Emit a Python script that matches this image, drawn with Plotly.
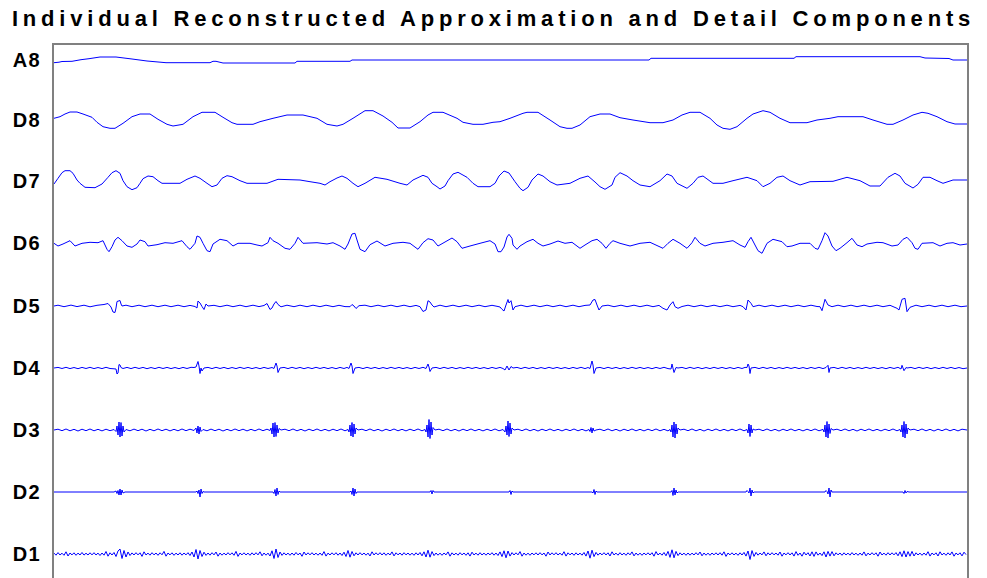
import numpy as np
import plotly.graph_objects as go

TITLE = "Individual Reconstructed Approximation and Detail Components"
LABELS = ["A8", "D8", "D7", "D6", "D5", "D4", "D3", "D2", "D1"]

# (sample, amplitude) pairs
A8_PTS = [(0,-2.7),(5,-2.2),(8,-1.5),(18,-1.3),(27,0.3),(35,1.3),(46,3),(62,3),(78,1),(93,-1),(112,-2.7),
          (156,-2.7),(159,-1.3),(162,-1.3),(169,-3),(241,-3),(243,-1.3),(296,-1.3),(298,0),(595,0),(597,1.7),
          (740,1.7),(742,3.3),(866,3.3),(871,2),(895,1.5),(899,0),(913,0)]

D8_PTS = [(0,1.7),(6,3.3),(11,6),(16,8),(23,8),(29,6),(38,2.7),(43,-2.3),(49,-6.7),(56,-8.3),(61,-8.3),(69,-3.3),
          (78,3.3),(86,6),(96,6),(104,0.7),(113,-4.3),(119,-6),(129,-4.3),(139,3.3),(148,7.7),(161,7.7),(169,2.7),
          (178,-2.7),(183,-4.3),(199,-4.3),(206,-1.7),(219,1.7),(233,5),(249,5),(263,1.7),(273,-4.3),(283,-6),
          (289,-4.3),(299,1.7),(311,9.3),(319,9.3),(329,4),(338,-2.3),(344,-8),(356,-8),(366,-1.7),(374,5),
          (379,7.7),(389,7.7),(403,1.7),(409,-2.3),(419,-4.3),(429,-4.3),(439,-2.3),(446,-1.7),(456,1.7),(469,6.7),
          (473,7.7),(484,7.7),(496,0),(506,-6.7),(513,-8.3),(518,-8.3),(526,-5),(536,3.3),(546,6),(556,6),(566,2.3),
          (579,0),(596,-2.7),(609,-2.7),(619,0),(628,5),(636,7.7),(646,7.7),(656,1.7),(663,-5),(669,-8.3),(676,-9.3),
          (683,-6.7),(693,1.7),(699,6),(709,9.3),(716,7.7),(726,1.7),(736,-2.7),(753,-2.7),(763,0),(776,1.7),
          (784,3.3),(809,3.3),(819,0),(833,-4.3),(839,-4.3),(849,0),(859,5),(868,7.7),(874,6.7),(883,3.3),
          (893,-1.7),(901,-4),(913,-4)]

D7_PTS = [(0,-3),(4,2.7),(8,8.3),(11,10.3),(16,10.3),(19,7.7),(23,1),(26,-2.3),(31,-6.3),(41,-6.7),(48,-3),
          (54,3.7),(58,8.3),(62,10.3),(66,7.7),(69,0.3),(73,-5.7),(78,-8.7),(83,-6.7),(86,-2.3),(89,2.3),(94,5),
          (99,4.3),(104,0.3),(108,-2.3),(126,-2.3),(133,1.7),(141,5),(146,2.7),(153,-2.3),(158,-5.7),(163,-4),
          (168,2.7),(173,5.3),(178,4.3),(186,0.3),(193,-2.3),(213,-2.3),(224,1.7),(246,1),(256,-0.7),(266,-2.3),
          (271,-4),(276,-0.7),(283,3),(288,5),(293,2.7),(299,-2.3),(304,-5.7),(311,-2.3),(321,3.7),(333,1.7),
          (346,-2.3),(353,-4),(359,1),(369,5.7),(374,3.7),(378,-2.3),(383,-5.7),(386,-8),(391,-5),(394,0.3),
          (399,7),(404,8.7),(413,3.7),(419,-2.3),(424,-5.7),(436,-5.7),(441,-2.3),(445,5),(450,10),(455,8),
          (461,-0.7),(466,-7.3),(469,-9.7),(474,-6.3),(478,1),(484,7),(489,5),(496,-0.7),(503,-4),(516,-2.3),
          (526,2.7),(534,5),(541,-1),(546,-5.7),(551,-8.3),(558,-4),(561,3.7),(566,8.3),(573,5),(579,0.3),
          (586,-4),(596,-5.7),(606,0.3),(613,7),(618,5),(623,-2.3),(633,-7.3),(639,-2.3),(644,3.7),(649,5),
          (659,-2.3),(669,-2.3),(679,0.3),(693,3.7),(703,0.3),(709,-5.7),(716,-2.3),(723,3.7),(729,5),(736,0.3),
          (746,-4),(756,-0.7),(779,-0.3),(793,3.7),(806,0.3),(816,-5),(826,-5),(834,3.7),(841,7.7),(846,5),
          (851,-2.3),(859,-7),(864,-3.3),(869,3.7),(876,3.7),(883,0.3),(889,-2.3),(899,1),(913,1)]

D6_PTS = [(0,-0.3),(4,-3),(9,-1),(16,2.3),(21,-3),(28,-0.3),(36,0.7),(44,0.3),(49,2.3),(53,-6.3),(55,-8.7),
          (58,-3.7),(61,3),(64,5.7),(68,2.3),(73,-3),(78,-4.3),(83,-1),(86,3),(91,1.3),(94,-3),(103,-1.7),
          (111,0.3),(119,-0.3),(128,2.3),(133,-3.7),(136,-6.3),(141,-0.3),(143,7),(146,5.7),(149,-0.3),
          (153,-7.7),(156,-8.7),(159,-1),(166,3.7),(173,2.3),(179,-3),(184,-0.3),(196,-0.3),(203,-2),(208,-3),
          (214,0.3),(216,5.7),(219,2.3),(224,-0.3),(231,-5.3),(236,-6.3),(241,-0.3),(244,5.7),(249,-0.3),
          (263,0.3),(273,-1),(279,0.3),(286,-3),(291,-6.3),(294,-1),(298,9),(301,9.7),(303,3),(306,-6.3),
          (311,-8.7),(316,-1.7),(323,2),(331,-3),(339,-0.3),(349,0.7),(356,-0.3),(364,-6.3),(369,0.3),(374,4.3),
          (379,3),(384,-3),(391,1),(398,5),(403,1.3),(408,-5.3),(416,-3),(426,-0.3),(436,2.3),(441,-1),
          (444,-8.7),(447,-8.7),(450,-4),(453,6),(455,8.7),(458,4.7),(459,-2),(463,-6.3),(466,-3),(473,1.3),
          (479,3.7),(484,-0.3),(489,-3),(496,-1),(504,2),(511,-0.3),(518,0.7),(526,-5.3),(531,-2),(538,2.3),
          (543,3.7),(548,-0.3),(552,-5.3),(556,-0.3),(559,2.3),(566,-0.3),(576,-3),(586,-0.3),(596,0.7),
          (604,-3),(609,-5.3),(614,-0.3),(619,3.7),(626,-0.3),(633,-5.3),(638,0.3),(641,5.7),(646,-0.3),
          (651,-3),(659,-0.3),(669,0.7),(679,2.3),(686,-2),(691,-4.3),(694,1.3),(697,5.7),(701,-2),(704,-7.7),
          (708,-10.3),(713,-0.3),(719,3.7),(728,1.3),(733,-3.7),(738,-3),(746,-0.3),(756,-0.3),(761,-5.3),
          (764,-6.3),(768,2.3),(771,10.3),(774,7),(778,-3),(782,-7.7),(786,-5.3),(793,0.3),(798,4.7),(803,-2),
          (808,-3.7),(813,-1),(823,0.7),(829,0.3),(838,-3),(844,-2),(849,3.7),(853,5.7),(858,0.3),(861,-5.3),
          (864,-6.3),(868,-0.3),(879,0.3),(886,-3),(893,-0.3),(899,0.3),(906,-2),(913,-1)]

D5_PTS = [(0,0),(4,0.8),(10,-0.7),(17,0.9),(23,-0.6),(30,0.8),(36,-0.8),(43,0.7),(50,1.5),(54,2.5),(57,-1),
          (59,-6),(61,-6.5),(62,-2),(63,4.5),(66,5.5),(67,2),(68,0),(72,0.8),(78,-0.7),(85,0.8),(91,-0.7),
          (98,0.8),(104,-0.7),(111,0.8),(117,-0.7),(124,0.8),(130,-0.7),(136,0.6),(141,-0.5),(143,-2),(144,5),
          (146,3),(148,-0.5),(150,-3.5),(152,2),(154,0),(160,0.7),(166,-0.7),(173,0.8),(179,-0.7),(186,0.8),
          (192,-0.7),(199,0.8),(205,-0.6),(210,0.5),(213,2.5),(216,-3.5),(218,-2),(220,2),(222,4.5),(224,1.5),
          (227,-0.8),(233,0.8),(240,-0.7),(246,0.8),(253,-0.7),(259,0.8),(266,-0.7),(272,0.8),(279,-0.7),
          (285,0.7),(291,-0.6),(296,-0.7),(298,1.5),(300,0),(302,-2.5),(305,0.3),(311,0.8),(317,-0.7),(324,0.8),
          (330,-0.7),(337,0.8),(343,-0.7),(350,0.8),(356,-0.7),(362,0.6),(366,-0.7),(369,-5.5),(372,-4),
          (374,5.3),(376,4),(378,1),(380,-1),(386,0.8),(392,-0.7),(399,0.8),(405,-0.7),(412,0.8),(418,-0.7),
          (425,0.8),(431,-0.7),(438,0.7),(444,-0.5),(446,-1),(448,-3.3),(450,-5),(452,1),(454,6.5),(455,3),
          (457,5.3),(459,-4),(461,-0.7),(467,0.8),(473,-0.7),(480,0.8),(486,-0.7),(493,0.8),(499,-0.7),
          (506,0.8),(512,-0.7),(519,0.8),(525,-0.7),(531,0.6),(536,1),(539,6),(541,6.5),(543,1),(545,-4),
          (548,0),(554,0.8),(560,-0.7),(567,0.8),(573,-0.7),(580,0.8),(586,-0.7),(593,0.8),(599,-0.7),
          (605,0.6),(609,-2.3),(613,-4),(616,1),(619,4.3),(621,-0.7),(624,-2.3),(628,-0.5),(634,0.8),(640,-0.7),
          (647,0.8),(653,-0.7),(660,0.8),(666,-0.7),(673,0.8),(679,-0.7),(686,0.6),(689,-0.7),(692,-4),(694,6),
          (697,2.7),(699,-0.7),(705,0.8),(711,-0.7),(718,0.8),(724,-0.7),(731,0.8),(737,-0.7),(744,0.8),
          (750,-0.7),(757,0.8),(763,-0.5),(766,-0.7),(768,-4.7),(771,6.7),(774,1),(778,-0.7),(784,0.8),
          (790,-0.7),(797,0.8),(803,-0.7),(810,0.8),(816,-0.7),(823,0.8),(829,-0.7),(836,0.7),(843,-2.3),
          (845,-4),(848,6.7),(851,7.7),(853,-5.7),(856,-1.3),(862,0.8),(868,-0.7),(875,0.8),(881,-0.7),
          (888,0.8),(894,-0.7),(901,0.8),(907,-0.7),(913,0)]

D4_PTS = [(0,0),(4,0.6),(8,-0.5),(12,0.7),(16,-0.6),(20,0.5),(24,-0.7),(28,0.6),(32,-0.5),(36,0.7),(40,-0.6),
          (44,0.5),(48,-0.6),(52,0.7),(56,-0.5),(60,-0.8),(62,-1),(63,-6),(64,-5),(65,3.5),(66,3),(67,0.5),
          (69,-0.5),(73,0.6),(77,-0.6),(81,0.7),(85,-0.5),(89,0.6),(93,-0.7),(97,0.5),(101,-0.6),(105,0.7),
          (109,-0.5),(113,0.6),(117,-0.6),(121,0.5),(125,-0.7),(129,0.6),(133,-0.5),(137,0.7),(140,0.5),(142,1),
          (144,6.5),(145,2),(146,-5.5),(147,0),(148,-3),(150,0),(154,0.6),(158,-0.6),(162,0.7),(166,-0.5),
          (170,0.6),(174,-0.7),(178,0.5),(182,-0.6),(186,0.7),(190,-0.5),(194,0.6),(198,-0.6),(202,0.5),
          (206,-0.7),(210,0.6),(214,-0.5),(218,0.5),(220,-0.5),(222,5),(223,2),(224,-4.5),(226,0),(230,0.6),
          (234,-0.6),(238,0.7),(242,-0.5),(246,0.6),(250,-0.7),(254,0.5),(258,-0.6),(262,0.7),(266,-0.5),
          (270,0.6),(274,-0.6),(278,0.5),(282,-0.7),(286,0.6),(290,-0.5),(293,0.6),(295,-0.5),(297,5),(298,2),
          (299,-5.5),(301,0),(305,0.6),(309,-0.6),(313,0.7),(317,-0.5),(321,0.6),(325,-0.7),(329,0.5),
          (333,-0.6),(337,0.7),(341,-0.5),(345,0.6),(349,-0.6),(353,0.5),(357,-0.7),(361,0.6),(365,-0.5),
          (369,0.7),(372,-0.5),(374,4),(375,1),(376,-3.5),(378,0),(382,0.6),(386,-0.6),(390,0.7),(394,-0.5),
          (398,0.6),(402,-0.7),(406,0.5),(410,-0.6),(414,0.7),(418,-0.5),(422,0.6),(426,-0.6),(430,0.5),
          (434,-0.7),(438,0.6),(442,-0.5),(446,0.6),(449,-0.5),(451,-2),(453,2),(455,-2),(457,1.5),(459,0),
          (463,0.6),(467,-0.6),(471,0.7),(475,-0.5),(479,0.6),(483,-0.7),(487,0.5),(491,-0.6),(495,0.7),
          (499,-0.5),(503,0.6),(507,-0.6),(511,0.5),(515,-0.7),(519,0.6),(523,-0.5),(527,0.7),(531,-0.6),
          (534,0.5),(536,-0.5),(538,7),(539,3),(540,-5.5),(542,0),(546,0.6),(550,-0.6),(554,0.7),(558,-0.5),
          (562,0.6),(566,-0.7),(570,0.5),(574,-0.6),(578,0.7),(582,-0.5),(586,0.6),(590,-0.6),(594,0.5),
          (598,-0.7),(602,0.6),(606,-0.5),(610,0.7),(614,-0.6),(617,-1),(618,4),(620,-4.5),(622,0.5),(624,0),
          (628,0.6),(632,-0.6),(636,0.7),(640,-0.5),(644,0.6),(648,-0.7),(652,0.5),(656,-0.6),(660,0.7),
          (664,-0.5),(668,0.6),(672,-0.6),(676,0.5),(680,-0.7),(684,0.6),(688,-0.5),(691,0.6),(693,0.5),(694,4),
          (695,2),(696,-5.5),(697,0),(701,0.6),(705,-0.6),(709,0.7),(713,-0.5),(717,0.6),(721,-0.7),(725,0.5),
          (729,-0.6),(733,0.7),(737,-0.5),(741,0.6),(745,-0.6),(749,0.5),(753,-0.7),(757,0.6),(761,-0.5),
          (765,0.7),(769,-0.6),(772,0.5),(774,2.7),(775,-4.5),(776,0),(780,0.6),(784,-0.6),(788,0.7),(792,-0.5),
          (796,0.6),(800,-0.7),(804,0.5),(808,-0.6),(812,0.7),(816,-0.5),(820,0.6),(824,-0.6),(828,0.5),
          (832,-0.7),(836,0.6),(840,-0.5),(844,0.7),(847,-1),(848,2.7),(850,-2.7),(852,0.5),(853,0),(857,0.6),
          (861,-0.6),(865,0.7),(869,-0.5),(873,0.6),(877,-0.7),(881,0.5),(885,-0.6),(889,0.7),(893,-0.5),
          (897,0.6),(901,-0.6),(905,0.5),(909,-0.7),(913,0)]

D3_PTS = [(0,0),(4,0.8),(8,-0.7),(12,1),(16,-0.8),(20,0.7),(24,-1),(28,0.8),(32,-0.7),(36,1),(40,-0.8),(44,0.7),
          (48,-0.9),(52,0.8),(56,-0.7),(60,0.5),(62,-1.5),(63,4),(64,-5),(65,8),(66,-7),(67,7.5),(68,-6),(69,4),
          (70,-2),(72,0.5),(76,-0.8),(80,0.9),(84,-0.7),(88,0.8),(92,-1),(96,0.7),(100,-0.8),(104,1),(108,-0.7),
          (112,0.8),(116,-0.9),(120,0.7),(124,-0.8),(128,1),(132,-0.7),(136,0.8),(140,-0.5),(142,2),(143,-3),
          (144,4),(145,-4),(146,3),(147,-1.5),(149,0.5),(153,-0.8),(157,0.9),(161,-0.7),(165,0.8),(169,-1),
          (173,0.7),(177,-0.8),(181,1),(185,-0.7),(189,0.8),(193,-0.9),(197,0.7),(201,-0.8),(205,1),(209,-0.7),
          (213,0.8),(216,-0.5),(217,2),(218,-4),(219,7),(220,-7),(221,7.5),(222,-6.5),(223,5),(224,-3),(225,1.5),
          (227,0),(231,0.8),(235,-0.7),(239,1),(243,-0.8),(247,0.7),(251,-1),(255,0.8),(259,-0.7),(263,1),
          (267,-0.8),(271,0.7),(275,-0.9),(279,0.8),(283,-0.7),(287,1),(291,-0.8),(294,0.5),(295,-2),(296,5),
          (297,-6),(298,7.5),(299,-7),(300,6),(301,-4),(302,2),(304,0),(308,0.8),(312,-0.7),(316,1),(320,-0.8),
          (324,0.7),(328,-1),(332,0.8),(336,-0.7),(340,1),(344,-0.8),(348,0.7),(352,-0.9),(356,0.8),(360,-0.7),
          (364,1),(368,-0.8),(371,0.5),(372,-2),(373,5),(374,-7),(375,10.5),(376,-8.5),(377,8),(378,-5),
          (379,2.5),(381,0),(385,0.8),(389,-0.7),(393,1),(397,-0.8),(401,0.7),(405,-1),(409,0.8),(413,-0.7),
          (417,1),(421,-0.8),(425,0.7),(429,-0.9),(433,0.8),(437,-0.7),(441,1),(445,-0.8),(449,0.5),(451,-2),
          (452,4),(453,-5),(454,9),(455,-6.5),(456,7),(457,-4),(458,2),(460,0),(464,0.8),(468,-0.7),(472,1),
          (476,-0.8),(480,0.7),(484,-1),(488,0.8),(492,-0.7),(496,1),(500,-0.8),(504,0.7),(508,-0.9),(512,0.8),
          (516,-0.7),(520,1),(524,-0.8),(528,0.7),(532,-0.9),(535,0.5),(536,-1.5),(537,2.5),(538,-3),(539,2),
          (540,-1),(542,0),(546,0.8),(550,-0.7),(554,1),(558,-0.8),(562,0.7),(566,-1),(570,0.8),(574,-0.7),
          (578,1),(582,-0.8),(586,0.7),(590,-0.9),(594,0.8),(598,-0.7),(602,1),(606,-0.8),(610,0.7),(614,-0.9),
          (616,0.5),(617,-2),(618,5),(619,-7),(620,8),(621,-8),(622,6),(623,-4),(624,2),(626,0),(630,0.8),
          (634,-0.7),(638,1),(642,-0.8),(646,0.7),(650,-1),(654,0.8),(658,-0.7),(662,1),(666,-0.8),(670,0.7),
          (674,-0.9),(678,0.8),(682,-0.7),(686,1),(690,-0.8),(693,0.5),(694,-3),(695,6),(696,-6.5),(697,5),
          (698,-3),(699,1),(701,0),(705,0.8),(709,-0.7),(713,1),(717,-0.8),(721,0.7),(725,-1),(729,0.8),
          (733,-0.7),(737,1),(741,-0.8),(745,0.7),(749,-0.9),(753,0.8),(757,-0.7),(761,1),(765,-0.8),(769,0.6),
          (770,-2),(771,5),(772,-7),(773,8.5),(774,-8),(775,6),(776,-3.5),(777,1.5),(779,0),(783,0.8),
          (787,-0.7),(791,1),(795,-0.8),(799,0.7),(803,-1),(807,0.8),(811,-0.7),(815,1),(819,-0.8),(823,0.7),
          (827,-0.9),(831,0.8),(835,-0.7),(839,1),(843,-0.8),(846,0.5),(847,-2),(848,5),(849,-7),(850,8.5),
          (851,-8),(852,6),(853,-4),(854,2),(856,0),(860,0.8),(864,-0.7),(868,1),(872,-0.8),(876,0.7),(880,-1),
          (884,0.8),(888,-0.7),(892,1),(896,-0.8),(900,0.7),(904,-0.9),(908,0.8),(913,0)]

D2_PTS = [(0,0),(60,0),(62,1),(63,-1.5),(64,1.5),(65,-3),(66,3),(67,-3),(68,2),(69,-1),(71,0),
          (142,0),(143,1),(144,-1.5),(145,2),(146,-5),(147,3),(148,-1.5),(149,0.5),(150,0),
          (219,0),(220,-1.5),(221,2.5),(222,-4),(223,4),(224,-2.5),(225,1),(226,0),
          (296,0),(297,1),(298,-2.5),(299,4),(300,-4),(301,3),(302,-1.5),(303,0),
          (376,0),(377,1.5),(378,-2),(379,1.5),(380,0),
          (455,0),(456,1.5),(457,-2.5),(458,1),(459,0),
          (538,0),(539,-1),(540,2.5),(541,-2.5),(542,1),(543,0),
          (617,0),(618,1.5),(619,-3.5),(620,4),(621,-3),(622,2),(623,-1),(624,0),
          (692,0),(693,1.5),(694,0.5),(695,-1),(696,4),(697,-4),(698,2),(699,-1),(700,0),
          (771,0),(772,1.5),(773,0.5),(774,-2),(775,4),(776,-5),(777,2),(778,0),
          (849,0),(850,-1.5),(851,1.5),(852,-1),(853,0.5),(855,0),(913,0)]

# D1: one value every 2 samples
D1_VALS = [
    .9,-1.2,1.4,-1,.8,-1.3,2.2,-2,1,-.9,1.2,-1.3,.9,-1,1.5,-1.1,.8,-1,1.2,-.9,
    1.3,-1,.9,-1.5,1,-1.2,2.5,-2.2,1.2,-1,1.5,-2.5,3,5,-4.5,3.5,-3,2,-1.5,1.1,
    -1,1.3,-.9,1.2,-2.4,2.2,-1,.9,-1.2,1.3,-.9,1,-1.3,1.2,-.8,2.6,-2.2,1,-.9,1.2,
    -1.3,.9,-1,1.2,-1.2,1,-.9,1.3,-1.5,2,-3,4.5,-5,3.5,-2.5,1.8,-1.4,1,-1.2,1.3,
    -.9,2,-2.2,1,-1.2,.9,-1,1.3,-.9,1.2,-1.3,2.6,-2.4,1,-.9,1.2,-1,.9,-1.3,1.2,
    -1,1.3,-.9,2.2,-1.8,1,-1.2,.9,-2,3.2,-4.5,5,-3.5,2,-1.4,1.2,-1,.9,-1.3,1,
    -1.2,1.5,-.9,1,-2.3,2,-1,1.2,-.9,1.3,-1,.9,-1.2,1,-1.3,2.4,-2.1,.9,-1,1.2,
    -.9,1.3,-1.2,1,-1.5,1.8,-2.5,3.5,-3.2,2.5,-1.8,1.2,-1,1.3,-.9,1,-1.2,.9,-2,2.2,
    -1,1.2,-.9,1.3,-1,1.2,-1.3,.9,-1,2.1,-1.9,1.2,-.9,1,-1.2,1.3,-.9,1,-1.2,.9,
    -1.3,1.2,-1,1.5,-1.8,2.2,-3,3.8,-3.2,2.4,-1.6,1,-1.2,.9,-1.3,1,-.9,2.1,-2.2,1.2,
    -1,.9,-1.2,1.3,-.9,1,-1.3,1.2,-2.1,1.8,-1,.9,-1.2,1.3,-1,.9,-1.2,1,-.9,1.3,
    -1.2,1,-1.5,2.1,-2.6,3.2,-3.8,3,-2.1,1.4,-1,1.2,-.9,2.4,-2.2,1,-1.2,.9,-1.3,1,
    -.9,1.2,-1,1.3,-.9,1,-2.2,2,-1,1.2,-.9,1.3,-1,.9,-1.2,2.3,-2.1,1.2,-.9,1,
    -1.3,1.2,-1,.9,-1.2,1.5,-2.1,3,-4.2,3.8,-2.6,1.6,-1.2,1,-.9,1.3,-1,1.2,-2,2.2,
    -1,.9,-1.2,1.3,-1,.9,-1.3,1.2,-.9,2.1,-1.9,1,-1.2,.9,-1.3,1,-.9,1.2,-1,1.3,
    -2.2,2.4,-1,.9,-1.2,1.5,-1.8,2.6,-3.4,4.2,-3.8,2.6,-1.6,1.2,-1,.9,-1.3,1,-1.2,.9,
    -1,1.3,-.9,2,-1.8,1,-1.2,.9,-1.3,1,-.9,1.2,-1,1.3,-1.2,2.2,-2.4,1,-.9,1.2,
    -1,.9,-1.3,1.2,-1,1.6,-2.1,3,-5.5,3.4,-2.4,1.6,-1.2,1,-.9,2.1,-1.8,1.2,-1,1.3,
    -.9,1,-1.2,2,-2.2,1,-.9,1.3,-1,1.2,-2.1,2.4,-1.3,1,-2.2,1.8,-1,1.3,-2,2.2,
    -2.4,2.1,-1.2,1,-1.6,2.2,-3,2.6,-2.1,2.4,-1.8,1.2,-.9,1,-1.3,1.2,-1,.9,-1.2,1.4,
    -1,.9,-1.3,1,-1.2,2.1,-1.9,.9,-1,1.3,-.9,1.2,-2.2,2,-1,.9,-1.2,1.3,-1,1.2,
    -.9,1.4,-1.8,2.2,-2.6,3.2,-3,2.4,-2.2,2.6,-2,1.2,-1,.9,-1.3,1,-1.2,2.3,-2.1,1,
    -.9,1.2,-2,2.2,-1,.9,-1.3,1.2,-1,2.1,-2.2,1,-.9,1.2,-1.9,1.8,-.6]
D1_STEP = 2

SERIES = {
    "A8": A8_PTS, "D8": D8_PTS, "D7": D7_PTS, "D6": D6_PTS, "D5": D5_PTS,
    "D4": D4_PTS, "D3": D3_PTS, "D2": D2_PTS,
    "D1": [(i * D1_STEP, v) for i, v in enumerate(D1_VALS)],
}

# vertical stacking of the components (bottom to top gaps)
gaps = [62, 62, 62, 62, 63, 62, 61, 60]
offsets = {}
acc = 0.0
for k, name in enumerate(reversed(LABELS)):
    offsets[name] = acc
    if k < len(gaps):
        acc += gaps[k]

fig = go.Figure()
for name in LABELS:
    pts = SERIES[name]
    xs = [p[0] for p in pts]
    ys = [p[1] + offsets[name] for p in pts]
    fig.add_trace(go.Scatter(x=xs, y=ys, mode="lines", name=name,
                             line=dict(color="#0000ff", width=1, simplify=False),
                             hoverinfo="skip"))

font_family = "Liberation Sans, Arial, sans-serif"
fig.update_layout(
    width=987, height=578,
    margin=dict(l=54, r=20, t=45, b=0),
    paper_bgcolor="white", plot_bgcolor="white",
    showlegend=False,
    title=dict(text=TITLE, xref="container", x=0.5, xanchor="center",
               yref="container", y=1 - 18 / 578, yanchor="middle",
               font=dict(family=font_family, size=22, color="black", weight="bold")),
    xaxis=dict(range=[0, 913], showgrid=False, zeroline=False, showticklabels=False,
               ticks="", side="top", showline=True, linecolor="#808080", linewidth=1.5,
               mirror=False, fixedrange=True),
    yaxis=dict(range=[-24, 509], showgrid=False, zeroline=False,
               tickvals=[offsets[n] for n in LABELS], ticktext=LABELS, ticks="",
               ticklabelstandoff=7,
               tickfont=dict(family=font_family, size=20, color="black", weight="bold"),
               showline=True, mirror=True, linecolor="#808080", linewidth=1.5, fixedrange=True),
)

post = """
function _ls(){
  document.querySelectorAll('.gtitle').forEach(function(e){e.setAttribute('letter-spacing','4.8px');});
  document.querySelectorAll('.ytick text').forEach(function(e){e.setAttribute('letter-spacing','1.5px');});
}
_ls(); setTimeout(_ls, 50);
"""
fig.write_html("out.html", post_script=post)
